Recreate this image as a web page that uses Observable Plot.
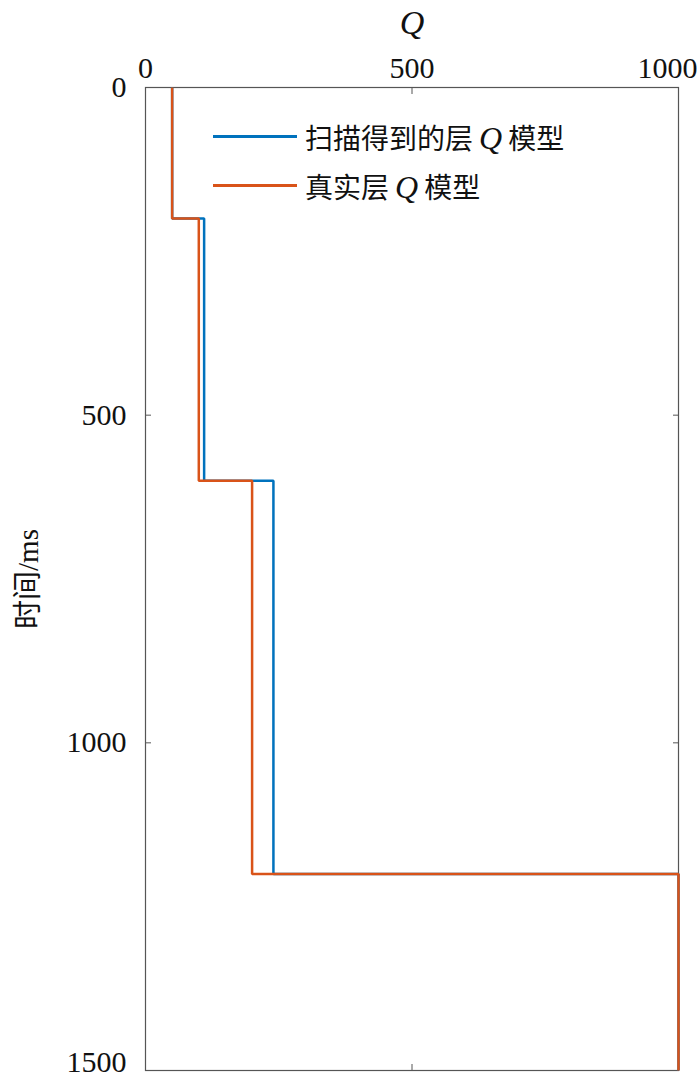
<!DOCTYPE html>
<html>
<head>
<meta charset="utf-8">
<script src="https://cdn.jsdelivr.net/npm/d3@7"></script>
<script src="https://cdn.jsdelivr.net/npm/@observablehq/plot@0.6"></script>
<style>
  body { margin: 0; background: #fff; }
  #wrap { position: relative; width: 700px; height: 1080px; }
  #wrap svg, #wrap svg text { font-family: "Liberation Serif", "Noto Sans CJK SC", serif !important; }
  .legend { position: absolute; left: 213px; top: 112px; font-family: "Liberation Serif", "Noto Sans CJK SC", serif; font-size: 28px; color: #111; }
  .row { display: flex; align-items: center; height: 49px; }
  .sw { width: 84px; height: 2.5px; margin-right: 8px; }
  .q { font-family: "Liberation Serif", serif; font-style: italic; font-size: 32px; margin: 0 6px; }
</style>
</head>
<body>
<div id="wrap"></div>
<script>
const layerTop = [0, 200, 600, 1200];
const layerBottom = [200, 600, 1200, 1500];
const qScanned = [50, 110, 240, 1000];
const qTrue = [50, 100, 200, 1000];
const seriesNames = ["扫描得到的层 Q 模型", "真实层 Q 模型"];
const seriesColors = ["#0072BD", "#D95319"];
const xTicks = [0, 500, 1000];
const yTicks = [0, 500, 1000, 1500];

function profile(q, name) {
  return q.flatMap((v, i) => [
    {Q: v, t: layerTop[i], s: name},
    {Q: v, t: layerBottom[i], s: name}
  ]);
}
const data = [...profile(qScanned, seriesNames[0]), ...profile(qTrue, seriesNames[1])];
const FF = "'Liberation Serif', 'Noto Sans CJK SC', serif";
const fmt = d => String(d);
const xLast = xTicks[xTicks.length - 1];
const yLast = yTicks[yTicks.length - 1];

const chart = Plot.plot({
  width: 700,
  height: 1080,
  marginLeft: 145,
  marginRight: 22,
  marginTop: 87,
  marginBottom: 10,
  style: {fontFamily: FF, background: "#fff", color: "#111"},
  x: {domain: [0, 1000]},
  y: {domain: [0, 1500], reverse: true},
  color: {domain: seriesNames, range: seriesColors},
  marks: [
    Plot.frame({stroke: "#555", strokeWidth: 1.2}),
    Plot.axisX({anchor: "top", ticks: xTicks.slice(0, -1), tickFormat: fmt, tickSize: 0, tickPadding: 10, fontSize: 30, fontFamily: FF, label: null}),
    Plot.axisX({anchor: "top", ticks: [xLast], tickFormat: fmt, tickSize: 0, tickPadding: 10, fontSize: 30, fontFamily: FF, label: null, dx: -11}),
    Plot.axisX({anchor: "top", ticks: [], label: "Q", labelAnchor: "center", labelOffset: 78, labelArrow: "none", fontSize: 34, fontFamily: FF, fontStyle: "italic"}),
    Plot.axisX({anchor: "top", ticks: xTicks, tickSize: -6, text: null, label: null, stroke: "#555"}),
    Plot.axisX({anchor: "bottom", ticks: xTicks, tickSize: -6, text: null, label: null, stroke: "#555"}),
    Plot.axisY({anchor: "left", ticks: yTicks.slice(0, -1), tickFormat: fmt, tickSize: 0, tickPadding: 19, fontSize: 30, fontFamily: FF, label: null}),
    Plot.axisY({anchor: "left", ticks: [yLast], tickFormat: fmt, tickSize: 0, tickPadding: 19, fontSize: 30, fontFamily: FF, label: null, dy: -8}),
    Plot.axisY({anchor: "left", ticks: [], label: "时间/ms", labelAnchor: "center", labelOffset: 128, labelArrow: "none", fontSize: 29, fontFamily: FF}),
    Plot.axisY({anchor: "left", ticks: yTicks, tickSize: -6, text: null, label: null, stroke: "#555"}),
    Plot.axisY({anchor: "right", ticks: yTicks, tickSize: -6, text: null, label: null, stroke: "#555"}),
    Plot.line(data, {x: "Q", y: "t", z: "s", stroke: "s", strokeWidth: 2.5, strokeLinejoin: "miter", strokeLinecap: "butt"})
  ]
});
document.getElementById("wrap").appendChild(chart);

const legend = document.createElement("div");
legend.className = "legend";
seriesNames.forEach((name, i) => {
  const row = document.createElement("div");
  row.className = "row";
  const sw = document.createElement("div");
  sw.className = "sw";
  sw.style.background = seriesColors[i];
  row.appendChild(sw);
  const parts = name.split(" Q ");
  const label = document.createElement("span");
  label.append(parts[0]);
  const q = document.createElement("span");
  q.className = "q";
  q.textContent = "Q";
  label.append(q);
  label.append(parts[1]);
  row.appendChild(label);
  legend.appendChild(row);
});
document.getElementById("wrap").appendChild(legend);
</script>
</body>
</html>
